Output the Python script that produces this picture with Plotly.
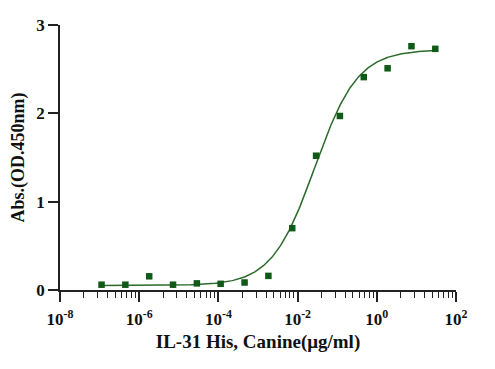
import numpy as np
import plotly.graph_objects as go

# Data
conc = [1.12e-7, 4.47e-7, 1.79e-6, 7.15e-6, 2.86e-5, 1.14e-4, 4.58e-4, 1.83e-3,
        7.32e-3, 2.93e-2, 0.117, 0.469, 1.875, 7.5, 30.0]
absorb = [0.06, 0.06, 0.155, 0.06, 0.075, 0.07, 0.085, 0.16,
          0.70, 1.52, 1.97, 2.41, 2.51, 2.76, 2.73]

# 4PL fit parameters (estimated from the drawn curve)
fit_bottom = 0.05
fit_top = 2.72
fit_ec50 = 0.027
fit_hill = 0.8

major_exp = [-8, -6, -4, -2, 0, 2]
major_text = ["10<sup>-8</sup>", "10<sup>-6</sup>", "10<sup>-4</sup>", "10<sup>-2</sup>",
              "10<sup>0</sup>", "10<sup>2</sup>"]
y_ticks = [0, 1, 2, 3]

xc = np.logspace(np.log10(conc[0]), np.log10(conc[-1]), 300)
yc = fit_bottom + (fit_top - fit_bottom) / (1 + (fit_ec50 / xc) ** fit_hill)

minor_vals = []
for e in major_exp[:-1]:
    for k in range(2, 10):
        minor_vals.append(10 ** e * k * k)

font_family = "Liberation Serif"
ax_color = "#222222"

fig = go.Figure()
fig.add_trace(go.Scatter(x=xc, y=yc, mode="lines",
                         line=dict(color="#2b6a2b", width=1.5),
                         hoverinfo="skip", showlegend=False))
fig.add_trace(go.Scatter(x=conc, y=absorb, mode="markers",
                         marker=dict(symbol="square", size=6.5, color="#0f5a17"),
                         showlegend=False, cliponaxis=False))

fig.update_layout(
    width=487, height=361,
    margin=dict(l=52, r=39, t=17, b=79),
    paper_bgcolor="white", plot_bgcolor="white",
    font=dict(family=font_family, size=17, color="#111111"),
    xaxis=dict(
        type="log", range=[-8, 2], automargin=False,
        tickmode="array", tickvals=[10.0 ** e for e in major_exp], ticktext=major_text,
        ticks="outside", ticklen=10, tickwidth=1.5, tickcolor=ax_color,
        showline=True, linecolor=ax_color, linewidth=1.5,
        showgrid=False, zeroline=False, ticklabelstandoff=3,
        tickfont=dict(family=font_family, size=17, weight="bold"),
        minor=dict(tickmode="array", tickvals=minor_vals, ticks="outside",
                   ticklen=6, tickwidth=1.3, tickcolor=ax_color, showgrid=False),
        title=dict(text="IL-31 His, Canine(μg/ml)",
                   font=dict(family=font_family, size=19, weight="bold"), standoff=7),
    ),
    yaxis=dict(
        range=[0, 3], tickmode="array", tickvals=y_ticks, automargin=False,
        ticks="outside", ticklen=10, tickwidth=1.5, tickcolor=ax_color,
        showline=True, linecolor=ax_color, linewidth=1.5,
        showgrid=False, zeroline=False,
        tickfont=dict(family=font_family, size=17, weight="bold"),
        title=dict(text="Abs.(OD.450nm)",
                   font=dict(family=font_family, size=18, weight="bold"), standoff=7),
    ),
)

fig.write_html("out.html")
